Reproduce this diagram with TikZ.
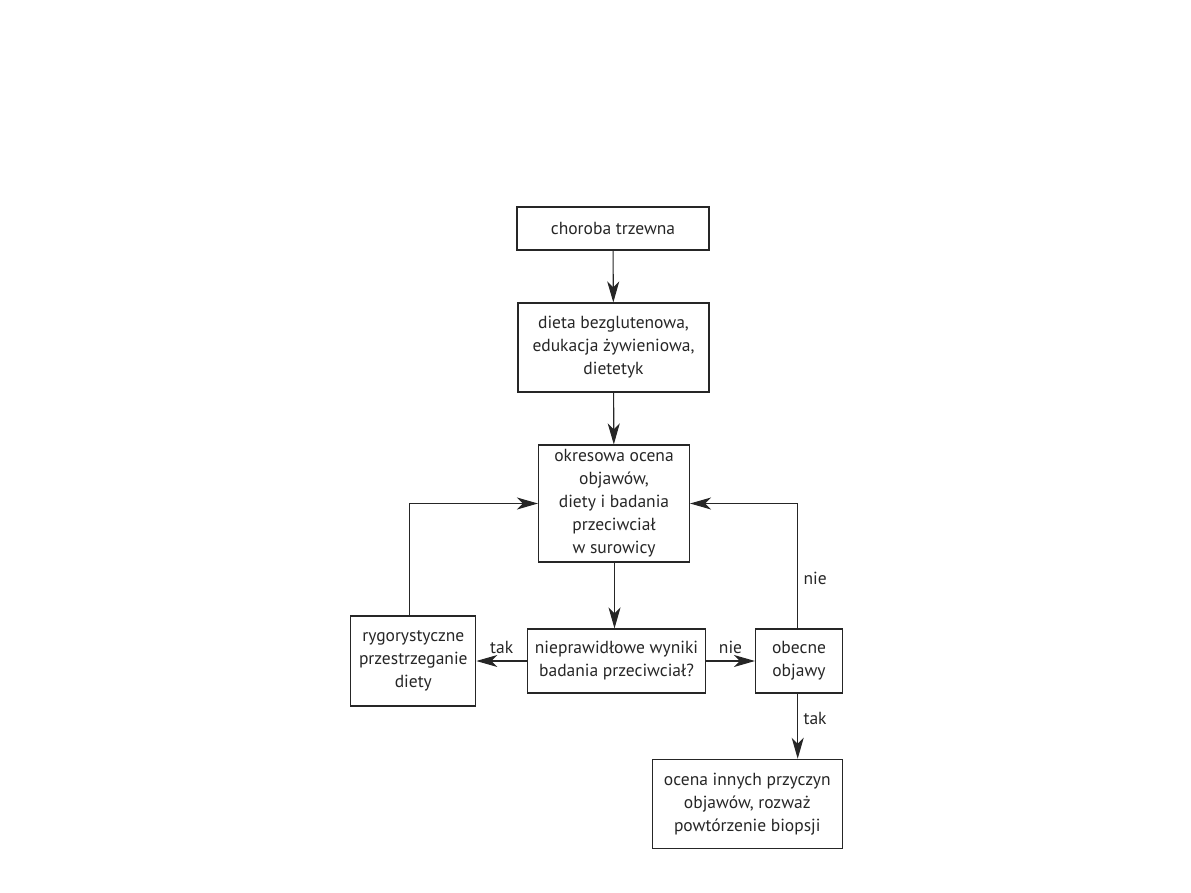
\documentclass[tikz,border=0pt]{standalone}
\usepackage{fontspec}
\setmainfont{PT Sans}
\usetikzlibrary{arrows.meta}
\begin{document}
\begin{tikzpicture} [x=1pt, y=-1pt,
    >={Stealth[length=21pt, width=12pt, inset=6pt]},
    line width=1.1pt, draw=black!85,
    every node/.style={font=\fontsize{17.5}{23}\selectfont, text=black!85},
    box/.style={draw, rectangle, align=center, inner sep=0pt}]
  \useasboundingbox (0,0) rectangle (1191,893);

  \node[box, minimum width=192pt, minimum height=43pt] (choroba) at (613,228.5) {choroba trzewna};
  \node[box, minimum width=191pt, minimum height=89pt] (dieta) at (613.5,347.5)
    {dieta bezglutenowa,\\ edukacja żywieniowa,\\ dietetyk};
  \node[box, minimum width=151pt, minimum height=117pt] (okres) at (614,503.5)
    {okresowa ocena\\ objawów,\\ diety i badania\\ przeciwciał\\ w surowicy};
  \node[box, minimum width=178pt, minimum height=64pt] (wyniki) at (616.5,661)
    {nieprawidłowe wyniki\\ badania przeciwciał?};
  \node[box, minimum width=125pt, minimum height=90pt] (rygor) at (413.3,661)
    {rygorystyczne\\ przestrzeganie\\ diety};
  \node[box, minimum width=87pt, minimum height=64pt] (obecne) at (799,661)
    {obecne\\ objawy};
  \node[box, minimum width=190pt, minimum height=89pt] (inne) at (747.3,803.8)
    {ocena innych przyczyn\\ objawów, rozważ\\ powtórzenie biopsji};

  \draw[->] (choroba) -- (dieta);
  \draw[->] (dieta) -- (okres);
  \draw[->] (okres.south -| 614.5,0) -- (wyniki.north -| 614.5,0);
  \draw[->] (wyniki) -- node[above, yshift=3pt] {tak} (rygor);
  \draw[->] (wyniki) -- node[above, yshift=3pt] {nie} (obecne);
  \draw[->] (rygor.north -| 409.3,0) |- (okres.west);
  \draw[->] (obecne.north -| 797.7,0) |- node[pos=0.2, right, xshift=2pt] {nie} (okres.east);
  \draw[->] (obecne.south -| 797.7,0) -- node[right, xshift=2pt, yshift=8pt] {tak} (inne.north -| 797.7,0);
\end{tikzpicture}
\end{document}
